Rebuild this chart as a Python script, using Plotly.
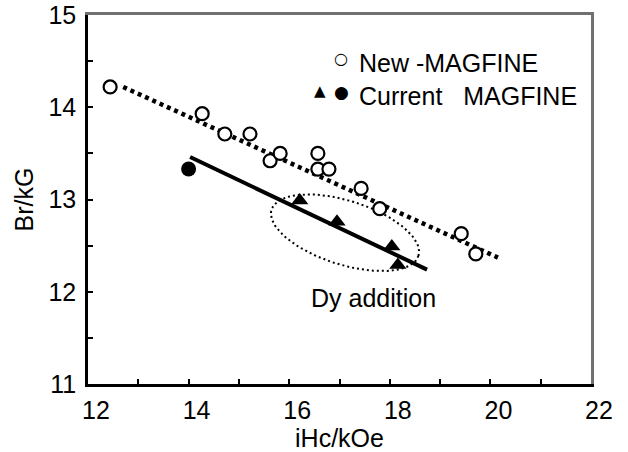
import numpy as np
import plotly.graph_objects as go

# ---- data ----
new_x = [12.44, 14.27, 14.72, 15.22, 15.62, 15.82, 16.57, 16.57, 16.79, 17.43, 17.80, 19.42, 19.71]
new_y = [14.22, 13.93, 13.71, 13.71, 13.42, 13.50, 13.50, 13.33, 13.33, 13.12, 12.90, 12.63, 12.41]

cur_tri_x = [16.21, 16.95, 18.04, 18.16]
cur_tri_y = [12.99, 12.76, 12.49, 12.29]
cur_dot_x = [14.00]
cur_dot_y = [13.33]

new_fit_x = [12.70, 20.15]
new_fit_y = [14.22, 12.37]
cur_fit_x = [14.03, 18.74]
cur_fit_y = [13.46, 12.24]

x_ticks = [12, 13, 14, 15, 16, 17, 18, 19, 20, 21, 22]
x_labels = ["12", "", "14", "", "16", "", "18", "", "20", "", "22"]
y_ticks = [11, 11.5, 12, 12.5, 13, 13.5, 14, 14.5, 15]
y_labels = ["11", "", "12", "", "13", "", "14", "", "15"]

# ellipse around Dy-addition points (center in data units, radii in px)
ell_cx, ell_cy = 17.11, 12.64
ell_a_px, ell_b_px, ell_ang_deg = 77, 32, 17.5

# ---- layout geometry ----
W, H = 628, 452
ML, MR, MT, MB = 88, 37, 15, 68
XR, YR = [12, 22], [11, 15]
px_per_x = (W - ML - MR) / (XR[1] - XR[0])
px_per_y = (H - MT - MB) / (YR[1] - YR[0])

FONT = "Liberation Sans, Arial, sans-serif"
FS = 25
FRAME = "#707070"

fig = go.Figure()

# invisible trace on overlay axes so the grey top/right frame axes are drawn
fig.add_trace(go.Scatter(x=[XR[0]], y=[YR[0]], xaxis="x2", yaxis="y2", mode="markers",
                         marker=dict(opacity=0), hoverinfo="skip"))

# fit lines
fig.add_trace(go.Scatter(x=new_fit_x, y=new_fit_y, mode="lines",
                         line=dict(color="black", width=4.5, dash="4px,4px"),
                         hoverinfo="skip"))
fig.add_trace(go.Scatter(x=cur_fit_x, y=cur_fit_y, mode="lines",
                         line=dict(color="black", width=4), hoverinfo="skip"))

# ellipse
t = np.linspace(0, 2 * np.pi, 121)
ang = np.deg2rad(ell_ang_deg)
ex_px = ell_a_px * np.cos(t) * np.cos(ang) - ell_b_px * np.sin(t) * np.sin(ang)
ey_px = ell_a_px * np.cos(t) * np.sin(ang) + ell_b_px * np.sin(t) * np.cos(ang)
fig.add_trace(go.Scatter(x=ell_cx + ex_px / px_per_x, y=ell_cy - ey_px / px_per_y,
                         mode="lines", line=dict(color="black", width=2, dash="2px,3px"),
                         hoverinfo="skip"))

# markers
fig.add_trace(go.Scatter(x=new_x, y=new_y, mode="markers",
                         marker=dict(symbol="circle", size=13, color="white",
                                     line=dict(color="black", width=2.2))))
fig.add_trace(go.Scatter(x=cur_tri_x, y=cur_tri_y, mode="markers",
                         marker=dict(symbol="triangle-up", size=15, color="black",
                                     line=dict(width=0))))
fig.add_trace(go.Scatter(x=cur_dot_x, y=cur_dot_y, mode="markers",
                         marker=dict(symbol="circle", size=15, color="black",
                                     line=dict(width=0))))

def px2paper_x(px):
    return (px - ML) / (W - ML - MR)

def py2paper_y(py):
    return (H - MB - py) / (H - MT - MB)

annotations = [
    dict(x=px2paper_x(341), y=py2paper_y(47), xref="paper", yref="paper", text="○",
         showarrow=False, font=dict(family="DejaVu Sans", size=16, color="black")),
    dict(x=px2paper_x(357), y=py2paper_y(47), xref="paper", yref="paper",
         text="New -MAGFINE", xanchor="left", showarrow=False,
         font=dict(family=FONT, size=FS, color="black")),
    dict(x=px2paper_x(320), y=py2paper_y(80), xref="paper", yref="paper", text="▲",
         showarrow=False, font=dict(family="DejaVu Sans", size=15, color="black")),
    dict(x=px2paper_x(341), y=py2paper_y(80), xref="paper", yref="paper", text="●",
         showarrow=False, font=dict(family="DejaVu Sans", size=17, color="black")),
    dict(x=px2paper_x(357), y=py2paper_y(80), xref="paper", yref="paper",
         text="Current&nbsp;&nbsp;&nbsp;MAGFINE", xanchor="left", showarrow=False,
         font=dict(family=FONT, size=FS, color="black")),
    dict(x=17.68, y=11.93, xref="x", yref="y", text="Dy addition", showarrow=False,
         font=dict(family=FONT, size=FS, color="black")),
]

fig.update_layout(
    width=W, height=H, showlegend=False,
    margin=dict(l=ML, r=MR, t=MT, b=MB),
    paper_bgcolor="white", plot_bgcolor="white",
    font=dict(family=FONT, size=FS, color="black"),
    annotations=annotations,
    xaxis=dict(range=XR, tickmode="array", tickvals=x_ticks, ticktext=x_labels,
               ticks="inside", ticklen=5, tickwidth=2, tickcolor="black",
               showline=True, linecolor="black", linewidth=2.5, showgrid=False,
               zeroline=False, ticklabelshift=8, ticklabelstandoff=2, automargin=False,
               title=dict(text="iHc/kOe", standoff=2, font=dict(size=FS))),
    yaxis=dict(range=YR, tickmode="array", tickvals=y_ticks, ticktext=y_labels,
               ticks="inside", ticklen=5, tickwidth=2, tickcolor="black",
               showline=True, linecolor="black", linewidth=2.5, showgrid=False,
               zeroline=False, ticklabelstandoff=4, automargin=False,
               title=dict(text="Br/kG", standoff=8, font=dict(size=FS))),
    xaxis2=dict(range=XR, overlaying="x", side="top", showline=True, linecolor=FRAME,
                linewidth=3, showticklabels=False, ticks="", showgrid=False,
                zeroline=False, automargin=False),
    yaxis2=dict(range=YR, overlaying="y", side="right", showline=True, linecolor=FRAME,
                linewidth=3, showticklabels=False, ticks="", showgrid=False,
                zeroline=False, automargin=False),
)

fig.write_html("out.html", config={"displayModeBar": False},
               post_script="document.body.style.margin='0';document.body.style.padding='0';")
